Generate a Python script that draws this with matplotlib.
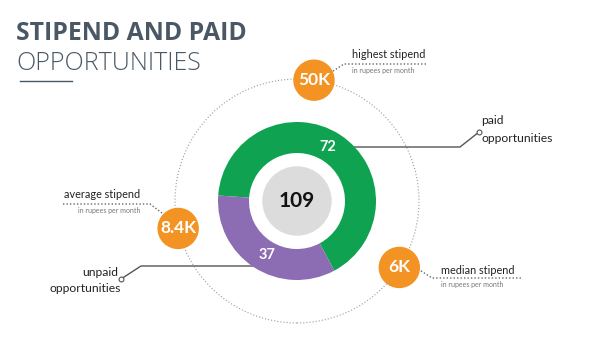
import matplotlib
matplotlib.use("Agg")
import matplotlib.pyplot as plt
from matplotlib.patches import Circle
import numpy as np

# donut data
segments = ["paid opportunities", "unpaid opportunities"]
counts = [72, 37]
total = 109
seg_colors = ["#0fa351", "#8c6db3"]

# stipend bubbles
stipend_values = ["50K", "8.4K", "6K"]
stipend_labels = ["highest stipend", "average stipend", "median stipend"]
stipend_angles = [82, 193, 327]

W, H = 606, 342
CX, CY = 297, 201          # donut centre, pixels from top
R_OUT, R_IN, R_RING = 79, 48, 122

def Y(y):
    return H - y

def polar(angle, r):
    a = np.radians(angle)
    return CX + r * np.cos(a), CY - r * np.sin(a)

fig = plt.figure(figsize=(W / 100, H / 100), dpi=100)
ax = fig.add_axes([0, 0, 1, 1])

LABEL_FONT = "Lato"
TITLE_FONT = "Open Sans"

# dotted ring behind everything
ax.add_patch(Circle((CX, Y(CY)), R_RING, fill=False, ec="#9c9c9c", lw=0.8,
                    ls=(0, (1, 1.8)), zorder=1))

# donut
start = 176
ax.pie(counts, colors=seg_colors, center=(CX, Y(CY)), radius=R_OUT,
       startangle=start, counterclock=False, frame=True,
       wedgeprops=dict(width=R_OUT - R_IN, linewidth=0, zorder=3))
ax.add_patch(Circle((CX, Y(CY)), 34, color="#dcdcdc", zorder=4))
ax.text(CX, Y(CY), str(total), ha="center", va="center", fontsize=15,
        fontweight="bold", family=LABEL_FONT, color="#111111", zorder=5)

# segment values
label_angles = [60, 241]
for cnt, ang in zip(counts, label_angles):
    x, y = polar(ang, 62)
    ax.text(x, Y(y), str(cnt), ha="center", va="center", fontsize=10.5,
            fontweight="bold", family=LABEL_FONT, color="white", zorder=5)

# leader lines for the segments
ax.plot([353, 460, 479], [Y(147), Y(147), Y(132)], color="#555555", lw=1, zorder=2)
ax.plot([479], [Y(132)], marker="o", ms=3.5, mfc="white", mec="#555555", mew=0.8, zorder=6)
ax.text(481, Y(121), "paid", fontsize=8.7, family=LABEL_FONT, color="#222222",
        va="center", ha="left")
ax.text(481, Y(138), "opportunities", fontsize=8.7, family=LABEL_FONT, color="#222222",
        va="center", ha="left")

ax.plot([257, 141, 121], [Y(266), Y(266), Y(279)], color="#555555", lw=1, zorder=2)
ax.plot([121], [Y(279)], marker="o", ms=3.5, mfc="white", mec="#555555", mew=0.8, zorder=6)
ax.text(118, Y(272), "unpaid", fontsize=8.7, family=LABEL_FONT, color="#222222",
        va="center", ha="right")
ax.text(121, Y(289), "opportunities", fontsize=8.7, family=LABEL_FONT, color="#222222",
        va="center", ha="right")

# stipend bubbles
for val, ang in zip(stipend_values, stipend_angles):
    x, y = polar(ang, R_RING)
    ax.add_patch(Circle((x, Y(y)), 20, color="#f39324", zorder=6))
    ax.text(x, Y(y), val, ha="center", va="center", fontsize=12.5,
            fontweight="bold", family=LABEL_FONT, color="white", zorder=7)

dot = dict(color="#666666", lw=1, ls=(0, (1, 1.5)), zorder=2)
sub = dict(fontsize=5, family=LABEL_FONT, color="#777777", va="center")
head = dict(fontsize=7.8, family=LABEL_FONT, color="#222222", va="center")

# highest
ax.plot([330, 344, 428], [Y(73), Y(64), Y(64)], **dot)
ax.text(352, Y(55), stipend_labels[0], ha="left", **head)
ax.text(352, Y(70), "in rupees per month", ha="left", **sub)
# average
ax.plot([63, 150, 162], [Y(204), Y(204), Y(213)], **dot)
ax.text(140, Y(195), stipend_labels[1], ha="right", **head)
ax.text(140, Y(211), "in rupees per month", ha="right", **sub)
# median
ax.plot([418, 432, 522], [Y(269), Y(278), Y(278)], **dot)
ax.text(441, Y(270), stipend_labels[2], ha="left", **head)
ax.text(441, Y(284), "in rupees per month", ha="left", **sub)

# title
ax.text(16, Y(33), "STIPEND AND PAID", fontsize=17.8, fontweight="bold",
        family=TITLE_FONT, color="#4a5866", va="center", ha="left")
ax.text(16, Y(63), "OPPORTUNITIES", fontsize=18, fontweight="light",
        family=TITLE_FONT, color="#4a5866", va="center", ha="left")
ax.plot([20, 72], [Y(81), Y(81)], color="#4a5866", lw=1)

ax.set_xlim(0, W)
ax.set_ylim(0, H)
ax.set_aspect("equal")
ax.axis("off")

fig.savefig("out.png", dpi=100, facecolor="white")
